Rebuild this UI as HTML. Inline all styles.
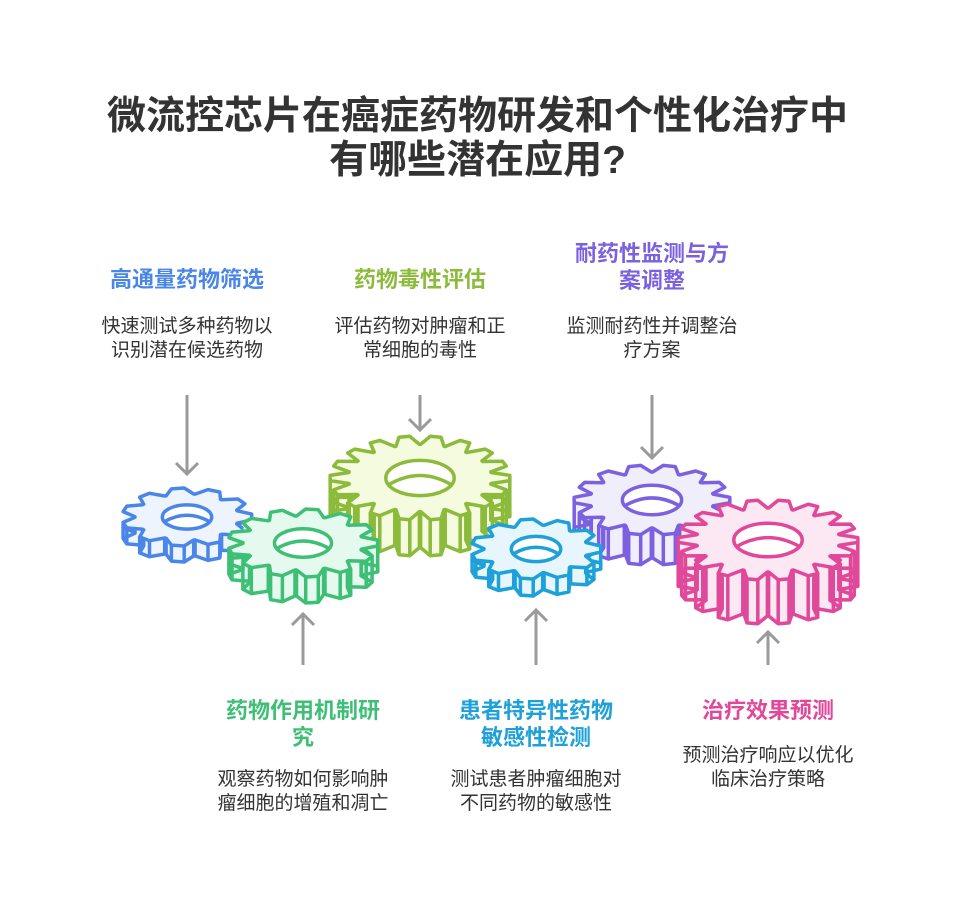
<!DOCTYPE html>
<html><head><meta charset="utf-8">
<style>
body{margin:0;background:#fff;width:955px;height:909px;overflow:hidden;position:relative;font-family:"Liberation Sans","Noto Sans CJK SC",sans-serif}
.t{position:absolute;left:0;width:955px;text-align:center;font-size:39px;font-weight:bold;color:#333;line-height:44px}
.l{position:absolute;width:240px;text-align:center;font-size:22px;font-weight:bold;line-height:27px}
.d{position:absolute;width:240px;text-align:center;font-size:19px;color:#333;line-height:24px}
svg{position:absolute;left:0;top:0}
</style></head><body>
<svg id="s" width="955" height="909" viewBox="0 0 955 909"></svg>
<div class="t" style="top:95px">微流控芯片在癌症药物研发和个性化治疗中</div>
<div class="t" style="top:139px">有哪些潜在应用?</div>

<div class="l" style="left:67px;top:266px;color:#4a86e8">高通量药物筛选</div>
<div class="d" style="left:67px;top:315px">快速测试多种药物以<br>识别潜在候选药物</div>
<div class="l" style="left:300px;top:266px;color:#8cba3a">药物毒性评估</div>
<div class="d" style="left:300px;top:315px">评估药物对肿瘤和正<br>常细胞的毒性</div>
<div class="l" style="left:532px;top:240px;color:#7b61e0">耐药性监测与方<br>案调整</div>
<div class="d" style="left:532px;top:315px">监测耐药性并调整治<br>疗方案</div>

<div class="l" style="left:183px;top:697px;color:#3dbf75">药物作用机制研<br>究</div>
<div class="d" style="left:183px;top:768px">观察药物如何影响肿<br>瘤细胞的增殖和凋亡</div>
<div class="l" style="left:416px;top:697px;color:#1ea0d8">患者特异性药物<br>敏感性检测</div>
<div class="d" style="left:416px;top:768px">测试患者肿瘤细胞对<br>不同药物的敏感性</div>
<div class="l" style="left:648px;top:697px;color:#e0489a">治疗效果预测</div>
<div class="d" style="left:648px;top:744px">预测治疗响应以优化<br>临床治疗策略</div>

<script>
var s=document.getElementById('s'),h='';
function arrow(x,y1,y2){var d=y2>y1?-1:1;
h+='<path d="M'+x+' '+y1+'V'+y2+'M'+(x-11)+' '+(y2+11*d)+'L'+x+' '+y2+'L'+(x+11)+' '+(y2+11*d)+'" fill="none" stroke="#9a9a9a" stroke-width="3"/>';}
function gear(cx,cy,rx,ry,t,n,st,fl){
 var pts=[],ro=1,ri=0.8;
 for(var i=0;i<n;i++){var a=i*2*Math.PI/n,w=Math.PI/n;
  var as=[a-w*0.95,a-w*0.45,a+w*0.45,a+w*0.95];
  var rs=[ri,ro,ro,ri];
  for(var k=0;k<4;k++){var aa=as[k]+(k==1?w*0.1:k==2?-w*0.1:0);pts.push([Math.cos(aa)*rs[k],Math.sin(aa)*rs[k]]);}
 }
 function P(dy){return 'M'+pts.map(function(p){return (cx+p[0]*rx).toFixed(1)+' '+(cy+dy+p[1]*ry).toFixed(1)}).join('L')+'Z';}
 for(var dy=t;dy>0;dy-=2)h+='<path d="'+P(dy)+'" fill="'+fl+'"/>';
 h+='<path d="'+P(t)+'" fill="'+fl+'" stroke="'+st+'" stroke-width="3.5" stroke-linejoin="round"/>';
 var v='';pts.forEach(function(p){if(p[1]>-0.1){var x=cx+p[0]*rx,y=cy+p[1]*ry;v+='M'+x.toFixed(1)+' '+y.toFixed(1)+'v'+t;}});
 h+='<path d="'+v+'" stroke="'+st+'" stroke-width="3.5"/>';
 h+='<path d="'+P(0)+'" fill="'+fl+'" stroke="'+st+'" stroke-width="3.5" stroke-linejoin="round"/>';
 var hx=rx*0.38,hy=ry*0.42;
 h+='<ellipse cx="'+cx+'" cy="'+cy+'" rx="'+hx+'" ry="'+hy+'" fill="#fff" stroke="'+st+'" stroke-width="3.5"/>';
 var o=Math.min(t,hy*1.2);
 h+='<path d="M'+(cx-hx*0.93)+' '+(cy+hy*0.4)+'Q'+cx+' '+(cy+hy*0.4-o*0.9)+' '+(cx+hx*0.93)+' '+(cy+hy*0.4)+'" fill="none" stroke="'+st+'" stroke-width="3.5"/>';
}
arrow(187,395,474);arrow(420,395,430);arrow(652,395,458);
arrow(303,665,614);arrow(536,665,610);arrow(768,665,632);
gear(420,478,90,42,36,18,'#8cba3a','#f4fbdf');
gear(187,517,65,29,16,11,'#4a86e8','#eef4fe');
gear(303,543,75,34,26,13,'#3dbf75','#e5f9ee');
gear(652,500,78,35,30,14,'#7b61e0','#f1eefc');
gear(536,549,65,30,17,11,'#1ea0d8','#e6f6fc');
gear(768,540,90,40,44,18,'#e0489a','#fce8f3');
s.innerHTML=h;
</script>
</body></html>
